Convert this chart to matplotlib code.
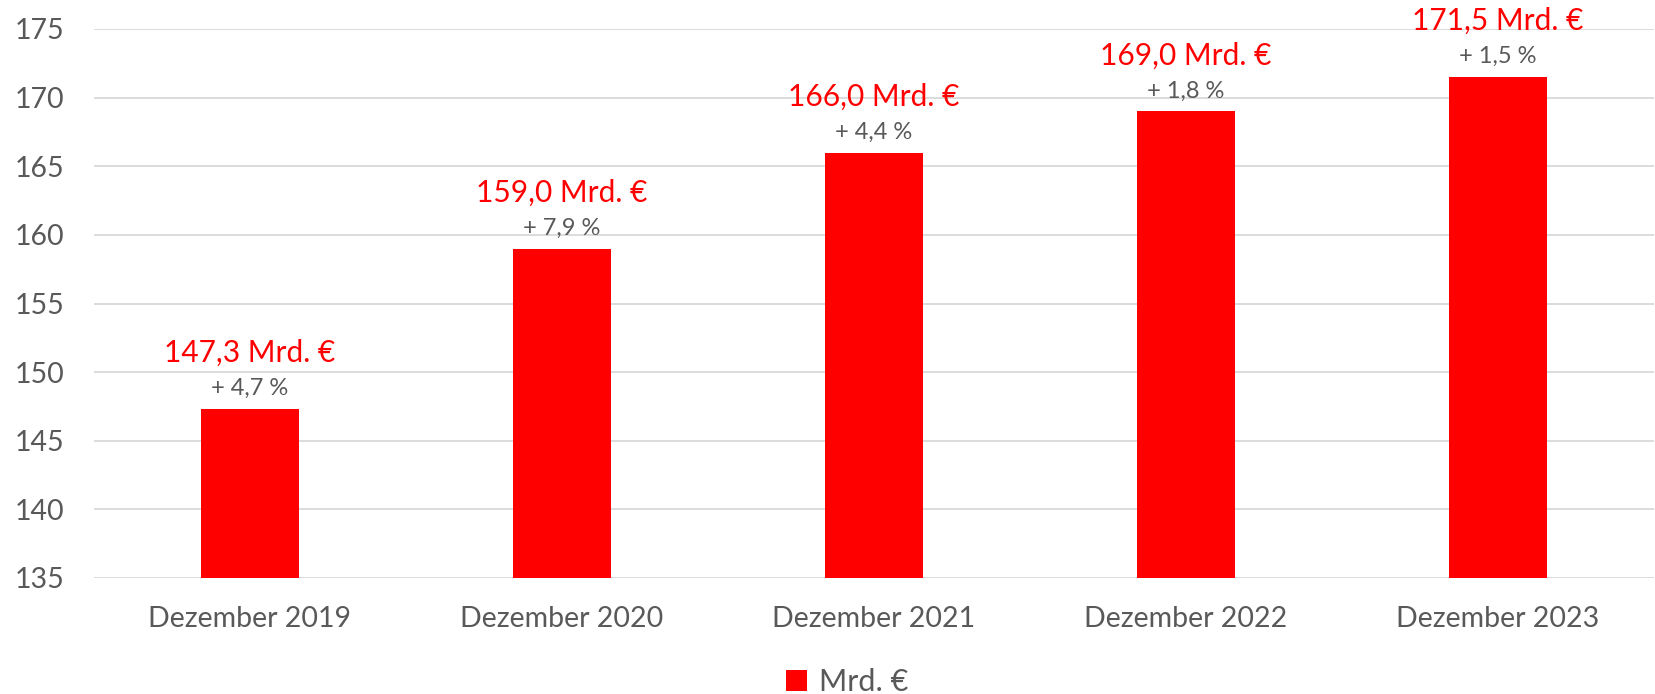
import numpy as np
import matplotlib.pyplot as plt

categories = ['Dezember 2019', 'Dezember 2020', 'Dezember 2021', 'Dezember 2022', 'Dezember 2023']
values = [147.3, 159.0, 166.0, 169.0, 171.5]
value_labels = ['147,3 Mrd. €', '159,0 Mrd. €', '166,0 Mrd. €', '169,0 Mrd. €', '171,5 Mrd. €']
change_labels = ['+ 4,7 %', '+ 7,9 %', '+ 4,4 %', '+ 1,8 %', '+ 1,5 %']
yticks = [135, 140, 145, 150, 155, 160, 165, 170, 175]

red = '#FF0000'
gray = '#595959'

plt.rcParams['font.family'] = ['Lato', 'DejaVu Sans']

fig = plt.figure(figsize=(16.55, 6.94), dpi=100)
ax = fig.add_axes([94 / 1655, 1 - 578 / 694, 1560 / 1655, (578 - 29) / 694])

x = np.arange(len(categories))
bars = ax.bar(x, values, width=0.314, color=red, label='Mrd. €', zorder=2)

ax.set_xlim(-0.5, len(categories) - 0.5)
ax.set_ylim(135, 175)
ax.set_yticks(yticks)
ax.set_xticks(x)
ax.set_xticklabels(categories)
ax.grid(axis='y', color='#D9D9D9', linewidth=1.3, zorder=0)
ax.set_axisbelow(True)
for s in ax.spines.values():
    s.set_visible(False)
ax.tick_params(axis='both', length=0, labelcolor=gray)
ax.tick_params(axis='y', labelsize=20.5, pad=21)
ax.tick_params(axis='x', labelsize=20.5, pad=20)

for xi, v, vl, cl in zip(x, values, value_labels, change_labels):
    ax.annotate(cl, (xi, v), xytext=(0, 14), textcoords='offset pixels',
                ha='center', va='baseline', fontsize=17, color=gray, annotation_clip=False)
    ax.annotate(vl, (xi, v), xytext=(0, 47), textcoords='offset pixels',
                ha='center', va='baseline', fontsize=21.5, color=red, annotation_clip=False)

fig.legend(handles=[bars], labels=['Mrd. €'], loc='center', bbox_to_anchor=(847 / 1655, 1 - 682 / 694),
           frameon=False, fontsize=22, labelcolor=gray, handlelength=0.7, handleheight=0.7,
           handletextpad=0.4)

fig.savefig('out.png', dpi=100)
